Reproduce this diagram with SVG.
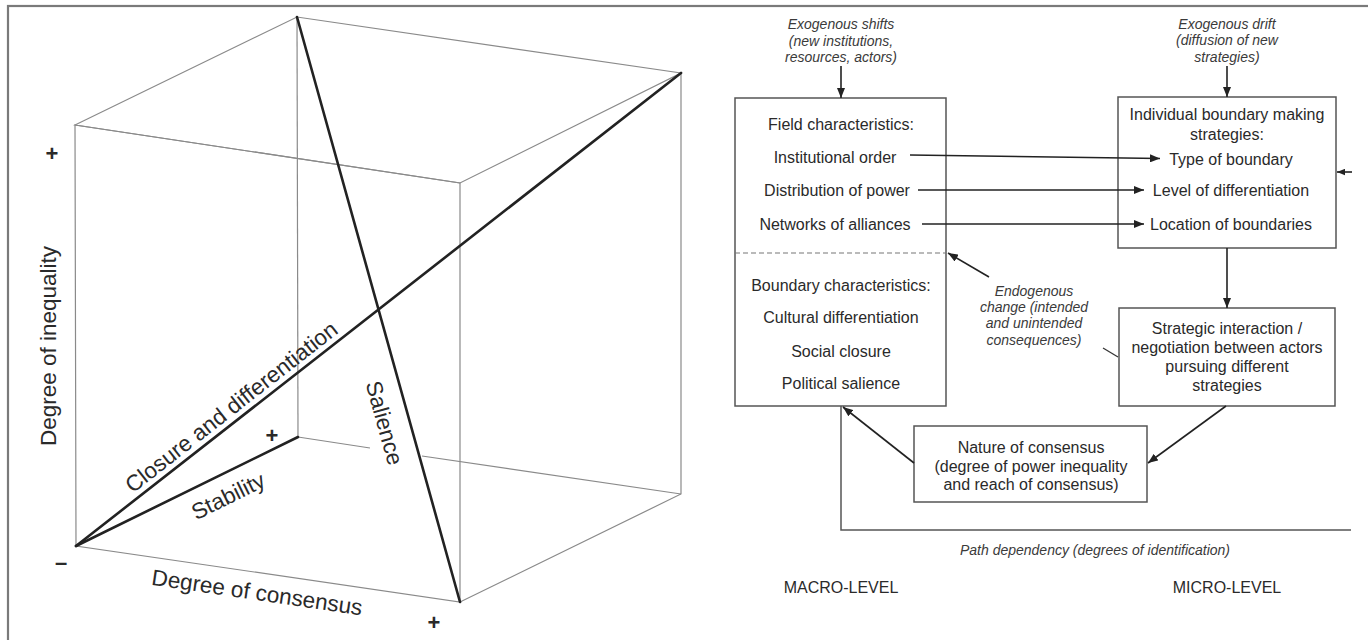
<svg xmlns="http://www.w3.org/2000/svg" width="1368" height="640" viewBox="0 0 1368 640">
<defs>
<marker id="ah" viewBox="0 0 10 8" refX="10" refY="4" markerWidth="10" markerHeight="8" markerUnits="userSpaceOnUse" orient="auto">
<path d="M0,0 L10,4 L0,8 z" fill="#222"/>
</marker>
<marker id="ahs" viewBox="0 0 10 8" refX="10" refY="4" markerWidth="8" markerHeight="7" markerUnits="userSpaceOnUse" orient="auto">
<path d="M0,0 L10,4 L0,8 z" fill="#222"/>
</marker>
<style>
.edge{stroke:#8a8a8a;stroke-width:1.2;fill:none}
.diag{stroke:#222;stroke-width:2.6;fill:none;stroke-linecap:round}
.big{font-family:"Liberation Sans",Arial,sans-serif;font-size:22.5px;fill:#2a2a2a}
.sign{font-family:"Liberation Sans",Arial,sans-serif;font-size:22px;font-weight:bold;fill:#2a2a2a;text-anchor:middle}
.box{fill:#fff;stroke:#555;stroke-width:1.5}
.t{font-family:"Liberation Sans",Arial,sans-serif;font-size:16px;fill:#2a2a2a;text-anchor:middle}
.it{font-family:"Liberation Sans",Arial,sans-serif;font-size:14px;font-style:italic;fill:#3a3a3a;text-anchor:middle}
.con{stroke:#222;stroke-width:1.6;fill:none}
</style>
</defs>
<rect x="8" y="6" width="1420" height="700" fill="none" stroke="#7a7a7a" stroke-width="2.2"/>

<g id="cube">
<polyline class="edge" points="297,17 298,437"/>
<polyline class="edge" points="298,437 76,546"/>
<polyline class="edge" points="298,437 370,448"/>
<polyline class="edge" points="422,456 681,494"/>
<polygon class="edge" points="75,125 297,17 681,73 460,183"/>
<polygon class="edge" points="75,125 460,183 460,602 76,546"/>
<polyline class="edge" points="681,73 681,494 460,602"/>
<line class="diag" x1="297" y1="17" x2="460" y2="602"/>
<line class="diag" x1="76" y1="546" x2="681" y2="73"/>
<line class="diag" x1="76" y1="546" x2="298" y2="437"/>
<text class="big" transform="translate(56,346) rotate(-90)" text-anchor="middle">Degree of inequality</text>
<text class="big" transform="translate(256,600) rotate(8.3)" text-anchor="middle">Degree of consensus</text>
<text class="big" transform="translate(236,413) rotate(-38)" text-anchor="middle">Closure and differentiation</text>
<text class="big" transform="translate(231.5,503) rotate(-26.2)" text-anchor="middle">Stability</text>
<text class="big" transform="translate(377,425) rotate(74.4)" text-anchor="middle">Salience</text>
<text class="sign" x="52" y="161">+</text>
<text class="sign" x="272" y="443">+</text>
<text class="sign" x="434" y="630">+</text>
<text class="sign" x="61" y="570">–</text>
</g>

<g id="field-box">
<rect class="box" x="735" y="98" width="211" height="308"/>
<line x1="735" y1="253" x2="946" y2="253" stroke="#777" stroke-width="1.2" stroke-dasharray="5,3"/>
<text class="t" x="841" y="130">Field characteristics:</text>
<text class="t" x="835" y="163">Institutional order</text>
<text class="t" x="837" y="196">Distribution of power</text>
<text class="t" x="835" y="230">Networks of alliances</text>
<text class="t" x="841" y="291">Boundary characteristics:</text>
<text class="t" x="841" y="323">Cultural differentiation</text>
<text class="t" x="841" y="357">Social closure</text>
<text class="t" x="841" y="389">Political salience</text>
</g>

<g id="strategies-box">
<rect class="box" x="1118" y="97" width="218" height="151"/>
<text class="t" x="1227" y="120">Individual boundary making</text>
<text class="t" x="1227" y="140">strategies:</text>
<text class="t" x="1231" y="165">Type of boundary</text>
<text class="t" x="1231" y="196">Level of differentiation</text>
<text class="t" x="1231" y="230">Location of boundaries</text>
</g>

<g id="interaction-box">
<rect class="box" x="1119" y="308" width="216" height="98"/>
<text class="t" x="1227" y="334">Strategic interaction /</text>
<text class="t" x="1227" y="353">negotiation between actors</text>
<text class="t" x="1227" y="372">pursuing different</text>
<text class="t" x="1227" y="391">strategies</text>
</g>

<g id="consensus-box">
<rect class="box" x="914" y="426" width="233" height="76"/>
<text class="t" x="1031" y="453">Nature of consensus</text>
<text class="t" x="1031" y="472">(degree of power inequality</text>
<text class="t" x="1031" y="490">and reach of consensus)</text>
</g>

<g id="exo-shifts">
<text class="it" x="841" y="29">Exogenous shifts</text>
<text class="it" x="841" y="46">(new institutions,</text>
<text class="it" x="841" y="62">resources, actors)</text>
</g>
<g id="exo-drift">
<text class="it" x="1227" y="29">Exogenous drift</text>
<text class="it" x="1227" y="45">(diffusion of new</text>
<text class="it" x="1227" y="62">strategies)</text>
</g>
<g id="endo-change">
<text class="it" x="1034" y="296">Endogenous</text>
<text class="it" x="1034" y="312">change (intended</text>
<text class="it" x="1034" y="328">and unintended</text>
<text class="it" x="1034" y="345">consequences)</text>
</g>
<g id="path-dependency">
<text class="it" x="1095" y="555">Path dependency (degrees of identification)</text>
</g>
<g id="levels">
<text class="t" x="841" y="593">MACRO-LEVEL</text>
<text class="t" x="1227" y="593">MICRO-LEVEL</text>
</g>

<g id="connectors">
<line class="con" x1="841" y1="66" x2="841" y2="98" marker-end="url(#ah)"/>
<line class="con" x1="1227" y1="66" x2="1227" y2="97" marker-end="url(#ah)"/>
<line class="con" x1="910" y1="155" x2="1160" y2="158.5" marker-end="url(#ah)"/>
<line class="con" x1="918" y1="190" x2="1144" y2="190" marker-end="url(#ah)"/>
<line class="con" x1="922" y1="224" x2="1144" y2="224" marker-end="url(#ah)"/>
<line class="con" x1="1352" y1="172" x2="1337" y2="172" marker-end="url(#ahs)"/>
<line class="con" x1="1227" y1="248" x2="1227" y2="308" marker-end="url(#ah)"/>
<line class="con" x1="1226" y1="406" x2="1148" y2="463" marker-end="url(#ah)"/>
<line class="con" x1="914" y1="463" x2="843" y2="407" marker-end="url(#ah)"/>
<line class="con" x1="989" y1="277" x2="948" y2="253" marker-end="url(#ah)"/>
<line x1="1103" y1="348" x2="1118" y2="357" stroke="#333" stroke-width="1.2"/>
<polyline points="841,406 841,530 1351,530" fill="none" stroke="#555" stroke-width="1.5"/>
</g>
</svg>
